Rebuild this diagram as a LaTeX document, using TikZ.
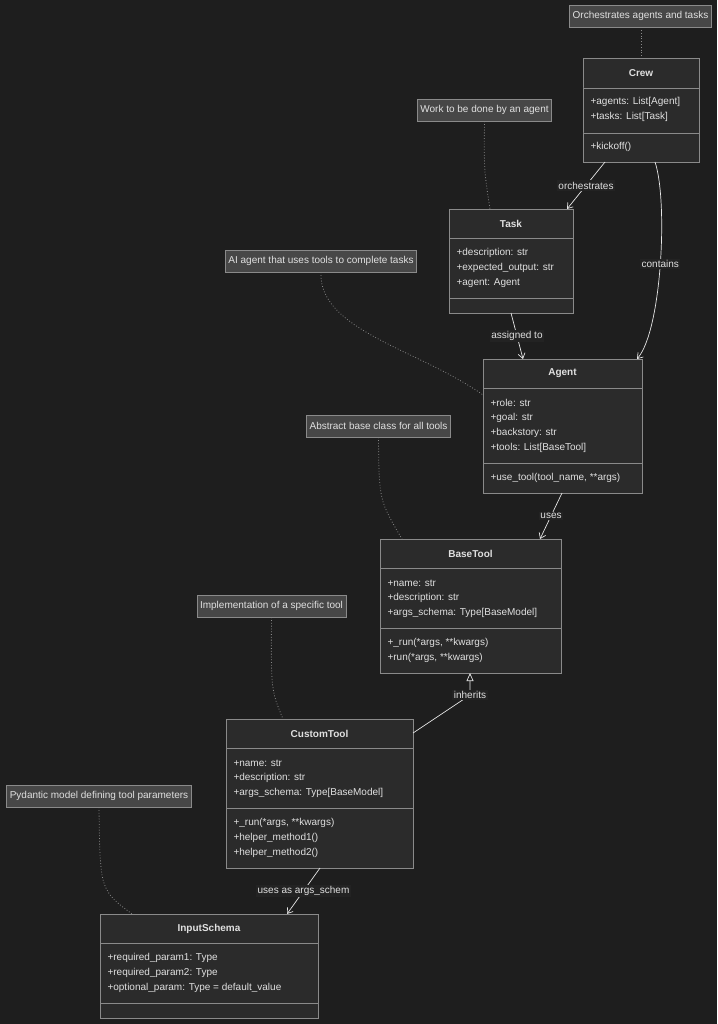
\documentclass[tikz,border=0pt]{standalone}
\usepackage{fontspec}
\setmainfont{Liberation Sans}
\usetikzlibrary{arrows.meta,calc}
\definecolor{bg}{HTML}{1E1E1E}
\definecolor{boxfill}{HTML}{2B2B2B}
\definecolor{boxline}{HTML}{8A8A8A}
\definecolor{notefill}{HTML}{474747}
\definecolor{ink}{HTML}{E0E0E0}
\tikzset{
  every node/.style={font=\fontsize{10}{12}\selectfont, text=ink},
  cls/.style={draw=boxline, fill=boxfill, line width=0.8pt},
  note/.style={draw=boxline, fill=notefill, inner sep=3pt, minimum height=22pt, line width=0.6pt},
  dot/.style={draw=boxline, dotted, line width=0.8pt},
  rel/.style={draw=ink!80, line width=0.7pt, -{Straight Barb[length=5pt,width=7pt]}},
  lbl/.style={fill=bg!60!boxfill, inner sep=1.5pt}
}
% class box: name, left, top, right, bottom, divider1, divider2, title
\newcommand{\umlclass}[8]{
  \draw[cls] (#2,#3) rectangle (#4,#5);
  \draw[cls] (#2,#6) -- (#4,#6);
  \draw[cls] (#2,#7) -- (#4,#7);
  \node[font=\fontsize{10}{12}\selectfont\bfseries] (#1) at ({(#2+#4)/2},{(#3+#6)/2}) {#8};
  \coordinate (#1-nw) at (#2,#3);
}
\begin{document}
\begin{tikzpicture}[x=1pt,y=-1pt]
\fill[bg] (0,0) rectangle (717,1024);
\useasboundingbox (0,0) rectangle (717,1024);

% CLASSES

\umlclass{crew}{583}{58}{699}{162}{88}{133}{Crew}
\node[anchor=west] at (587,102) {+agents: List[Agent]};
\node[anchor=west] at (587,117) {+tasks: List[Task]};
\node[anchor=west] at (587,147) {+kickoff()};

\umlclass{task}{449}{209}{573}{313}{238}{298}{Task}
\node[anchor=west] at (453,253) {+description: str};
\node[anchor=west] at (453,268) {+expected\_output: str};
\node[anchor=west] at (453,283) {+agent: Agent};

\umlclass{agent}{483}{359}{642}{493}{388}{463}{Agent}
\node[anchor=west] at (487,403) {+role: str};
\node[anchor=west] at (487,418) {+goal: str};
\node[anchor=west] at (487,433) {+backstory: str};
\node[anchor=west] at (487,448) {+tools: List[BaseTool]};
\node[anchor=west] at (487,478) {+use\_tool(tool\_name, **args)};

\umlclass{basetool}{380}{539}{561}{673}{568}{628}{BaseTool}
\node[anchor=west] at (384,583) {+name: str};
\node[anchor=west] at (384,598) {+description: str};
\node[anchor=west] at (384,613) {+args\_schema: Type[BaseModel]};
\node[anchor=west] at (384,643) {+\_run(*args, **kwargs)};
\node[anchor=west] at (384,658) {+run(*args, **kwargs)};

\umlclass{custom}{226}{719}{413}{868}{748}{808}{CustomTool}
\node[anchor=west] at (230,763) {+name: str};
\node[anchor=west] at (230,778) {+description: str};
\node[anchor=west] at (230,793) {+args\_schema: Type[BaseModel]};
\node[anchor=west] at (230,823) {+\_run(*args, **kwargs)};
\node[anchor=west] at (230,838) {+helper\_method1()};
\node[anchor=west] at (230,853) {+helper\_method2()};

\umlclass{schema}{100}{914}{318}{1018}{943}{1003}{InputSchema}
\node[anchor=west] at (104,958) {+required\_param1: Type};
\node[anchor=west] at (104,973) {+required\_param2: Type};
\node[anchor=west] at (104,988) {+optional\_param: Type = default\_value};

% NOTES

\node[note] (n1) at (640.5,16) {Orchestrates agents and tasks};
\node[note] (n2) at (484.5,110) {Work to be done by an agent};
\node[note] (n3) at (321,261) {AI agent that uses tools to complete tasks};
\node[note] (n4) at (378.5,426) {Abstract base class for all tools};
\node[note] (n5) at (271.5,606) {Implementation of a specific tool};
\node[note] (n6) at (99,796) {Pydantic model defining tool parameters};

\coordinate (crewtop) at (641,58);
\coordinate (tasktop) at (490,209);
\coordinate (agentleft) at (483,395);
\coordinate (basetop) at (402,539);
\coordinate (customtop) at (283,719);
\coordinate (schematop) at (132,914);

\draw[dot] (n1.south -| crewtop) -- (crewtop);
\draw[dot] (n2.south) .. controls (484,170) .. (tasktop);
\draw[dot] (n3.south) .. controls (318,330) and (420,350) .. (agentleft);
\draw[dot] (n4.south) .. controls (379,500) .. (basetop);
\draw[dot] (n5.south) .. controls (271,690) .. (customtop);
\draw[dot] (n6.south) .. controls (100,890) .. (schematop);

% RELATIONS

\coordinate (c1) at (605,162);
\coordinate (c2) at (655,162);
\coordinate (t1) at (567,209);
\coordinate (t2) at (511,313);
\coordinate (a1) at (523,359);
\coordinate (a2) at (637,359);
\coordinate (a3) at (562,493);
\coordinate (b1) at (540,539);
\coordinate (b2) at (470,673);
\coordinate (u1) at (413,733);
\coordinate (u2) at (320,868);
\coordinate (s1) at (287,914);

\draw[rel] (c1) -- node[lbl] {orchestrates} (t1);
\draw[rel] (c2) .. controls (668,200) and (662,330) .. node[lbl, pos=0.5] {contains} (a2);
\draw[rel] (t2) -- node[lbl] {assigned to} (a1);
\draw[rel] (a3) -- node[lbl] {uses} (b1);
\draw[rel, -{Triangle[open, length=8pt, width=7pt]}] (u1) -- (470,695) -- node[lbl, pos=0] {inherits} (b2);
\draw[rel] (u2) -- node[lbl] {uses as args\_schem} (s1);
\end{tikzpicture}
\end{document}
